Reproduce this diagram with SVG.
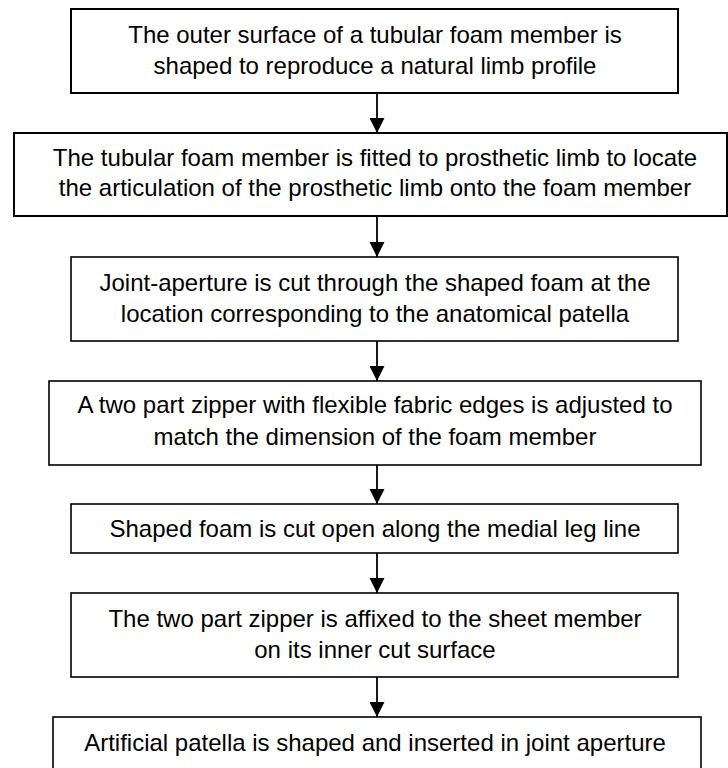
<svg xmlns="http://www.w3.org/2000/svg" width="728" height="768" viewBox="0 0 728 768">
<defs>
<marker id="ah" markerUnits="userSpaceOnUse" markerWidth="16" markerHeight="17" refX="15" refY="7.5" orient="auto">
<path d="M0,0 L15,7.5 L0,15 Z" fill="#000"/>
</marker>
<style>
.box{fill:#fff;stroke:#000;stroke-width:2}
.thin{stroke-width:1.6}
.t{font-family:"Liberation Sans",Arial,Helvetica,sans-serif;font-size:24px;fill:#000;text-anchor:middle}
.c{stroke:#000;stroke-width:1.8;fill:none}
</style>
</defs>
<rect width="728" height="768" fill="#fff"/>
<g id="connectors">
<line class="c" x1="377" y1="93" x2="377" y2="133" marker-end="url(#ah)"/>
<line class="c" x1="377" y1="216" x2="377" y2="257" marker-end="url(#ah)"/>
<line class="c" x1="377" y1="341" x2="377" y2="381" marker-end="url(#ah)"/>
<line class="c" x1="377" y1="465" x2="377" y2="504" marker-end="url(#ah)"/>
<line class="c" x1="377" y1="553" x2="377" y2="593" marker-end="url(#ah)"/>
<line class="c" x1="377" y1="677" x2="377" y2="717" marker-end="url(#ah)"/>
</g>
<g id="node1">
<rect class="box" x="71" y="9" width="607" height="84"/>
<text class="t" x="375" y="43">The outer surface of a tubular foam member is</text>
<text class="t" x="375" y="74">shaped to reproduce a natural limb profile</text>
</g>
<g id="node2">
<rect class="box" x="14" y="133" width="713" height="83"/>
<text class="t" x="375" y="166">The tubular foam member is fitted to prosthetic limb to locate</text>
<text class="t" x="375" y="196">the articulation of the prosthetic limb onto the foam member</text>
</g>
<g id="node3">
<rect class="box thin" x="71" y="257" width="607" height="84"/>
<text class="t" x="375" y="291">Joint-aperture is cut through the shaped foam at the</text>
<text class="t" x="375" y="322">location corresponding to the anatomical patella</text>
</g>
<g id="node4">
<rect class="box thin" x="49" y="381" width="652" height="84"/>
<text class="t" x="375" y="413">A two part zipper with flexible fabric edges is adjusted to</text>
<text class="t" x="375" y="445">match the dimension of the foam member</text>
</g>
<g id="node5">
<rect class="box thin" x="71" y="504" width="607" height="49"/>
<text class="t" x="375" y="537">Shaped foam is cut open along the medial leg line</text>
</g>
<g id="node6">
<rect class="box thin" x="71" y="593" width="607" height="84"/>
<text class="t" x="375" y="627">The two part zipper is affixed to the sheet member</text>
<text class="t" x="375" y="658">on its inner cut surface</text>
</g>
<g id="node7">
<rect class="box thin" x="53" y="717" width="648" height="70"/>
<text class="t" x="375" y="751">Artificial patella is shaped and inserted in joint aperture</text>
</g>
</svg>
